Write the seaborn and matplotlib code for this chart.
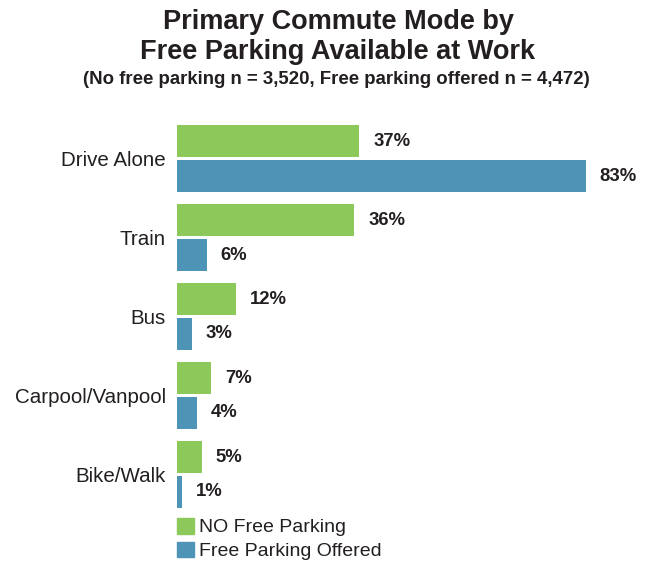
import matplotlib
matplotlib.use("Agg")
import matplotlib.pyplot as plt
import pandas as pd
import seaborn as sns

modes = ["Drive Alone", "Train", "Bus", "Carpool/Vanpool", "Bike/Walk"]
no_free = [37, 36, 12, 7, 5]
free_offered = [83, 6, 3, 4, 1]
groups = ["NO Free Parking", "Free Parking Offered"]
colors = ["#8CC85A", "#4E94B6"]
text_color = "#231F20"

df = pd.DataFrame({
    "mode": modes * 2,
    "group": [groups[0]] * len(modes) + [groups[1]] * len(modes),
    "value": no_free + free_offered,
})

sns.set_theme(style="white")
plt.rcParams["font.family"] = ["Liberation Sans", "DejaVu Sans"]
plt.rcParams["text.color"] = text_color

fig = plt.figure(figsize=(6.49, 5.61), dpi=100)
ax = fig.add_axes([177 / 649, 1 - 510 / 561, 468 / 649, 390 / 561])

sns.barplot(data=df, y="mode", x="value", hue="group", order=modes,
            hue_order=groups, palette=colors, orient="h", width=0.88,
            gap=0.08, saturation=1, linewidth=0, legend=False, ax=ax)

# percentage labels after each bar
for cont in ax.containers:
    ax.bar_label(cont, fmt="%d%%", padding=10, fontsize=13.3,
                 fontweight="bold", color=text_color)

ax.set_xlim(0, 95)
ax.set_ylim(4.45, -0.49)
ax.set_xlabel("")
ax.set_ylabel("")
ax.set_xticks([])
ax.tick_params(axis="y", length=0, pad=8, labelsize=14.8, labelcolor=text_color)
sns.despine(ax=ax, left=True, bottom=True)

handles = [plt.Rectangle((0, 0), 1, 1, color=c) for c in colors]
fig.legend(handles, groups, loc="upper left", bbox_to_anchor=(177 / 649, 1 - 518 / 561),
           frameon=False, fontsize=14, handlelength=0.85, handleheight=0.85,
           handletextpad=0.3, labelspacing=0.27, borderpad=0, borderaxespad=0)

fig.text(338 / 649, 1 - 22 / 561, "Primary Commute Mode by", ha="center", va="center",
         fontsize=19.5, fontweight="bold")
fig.text(338 / 649, 1 - 52 / 561, "Free Parking Available at Work", ha="center", va="center",
         fontsize=19.5, fontweight="bold")
fig.text(336 / 649, 1 - 80 / 561,
         "(No free parking n = 3,520, Free parking offered n = 4,472)",
         ha="center", va="center", fontsize=13.4, fontweight="bold")

fig.savefig("out.png", dpi=100)
